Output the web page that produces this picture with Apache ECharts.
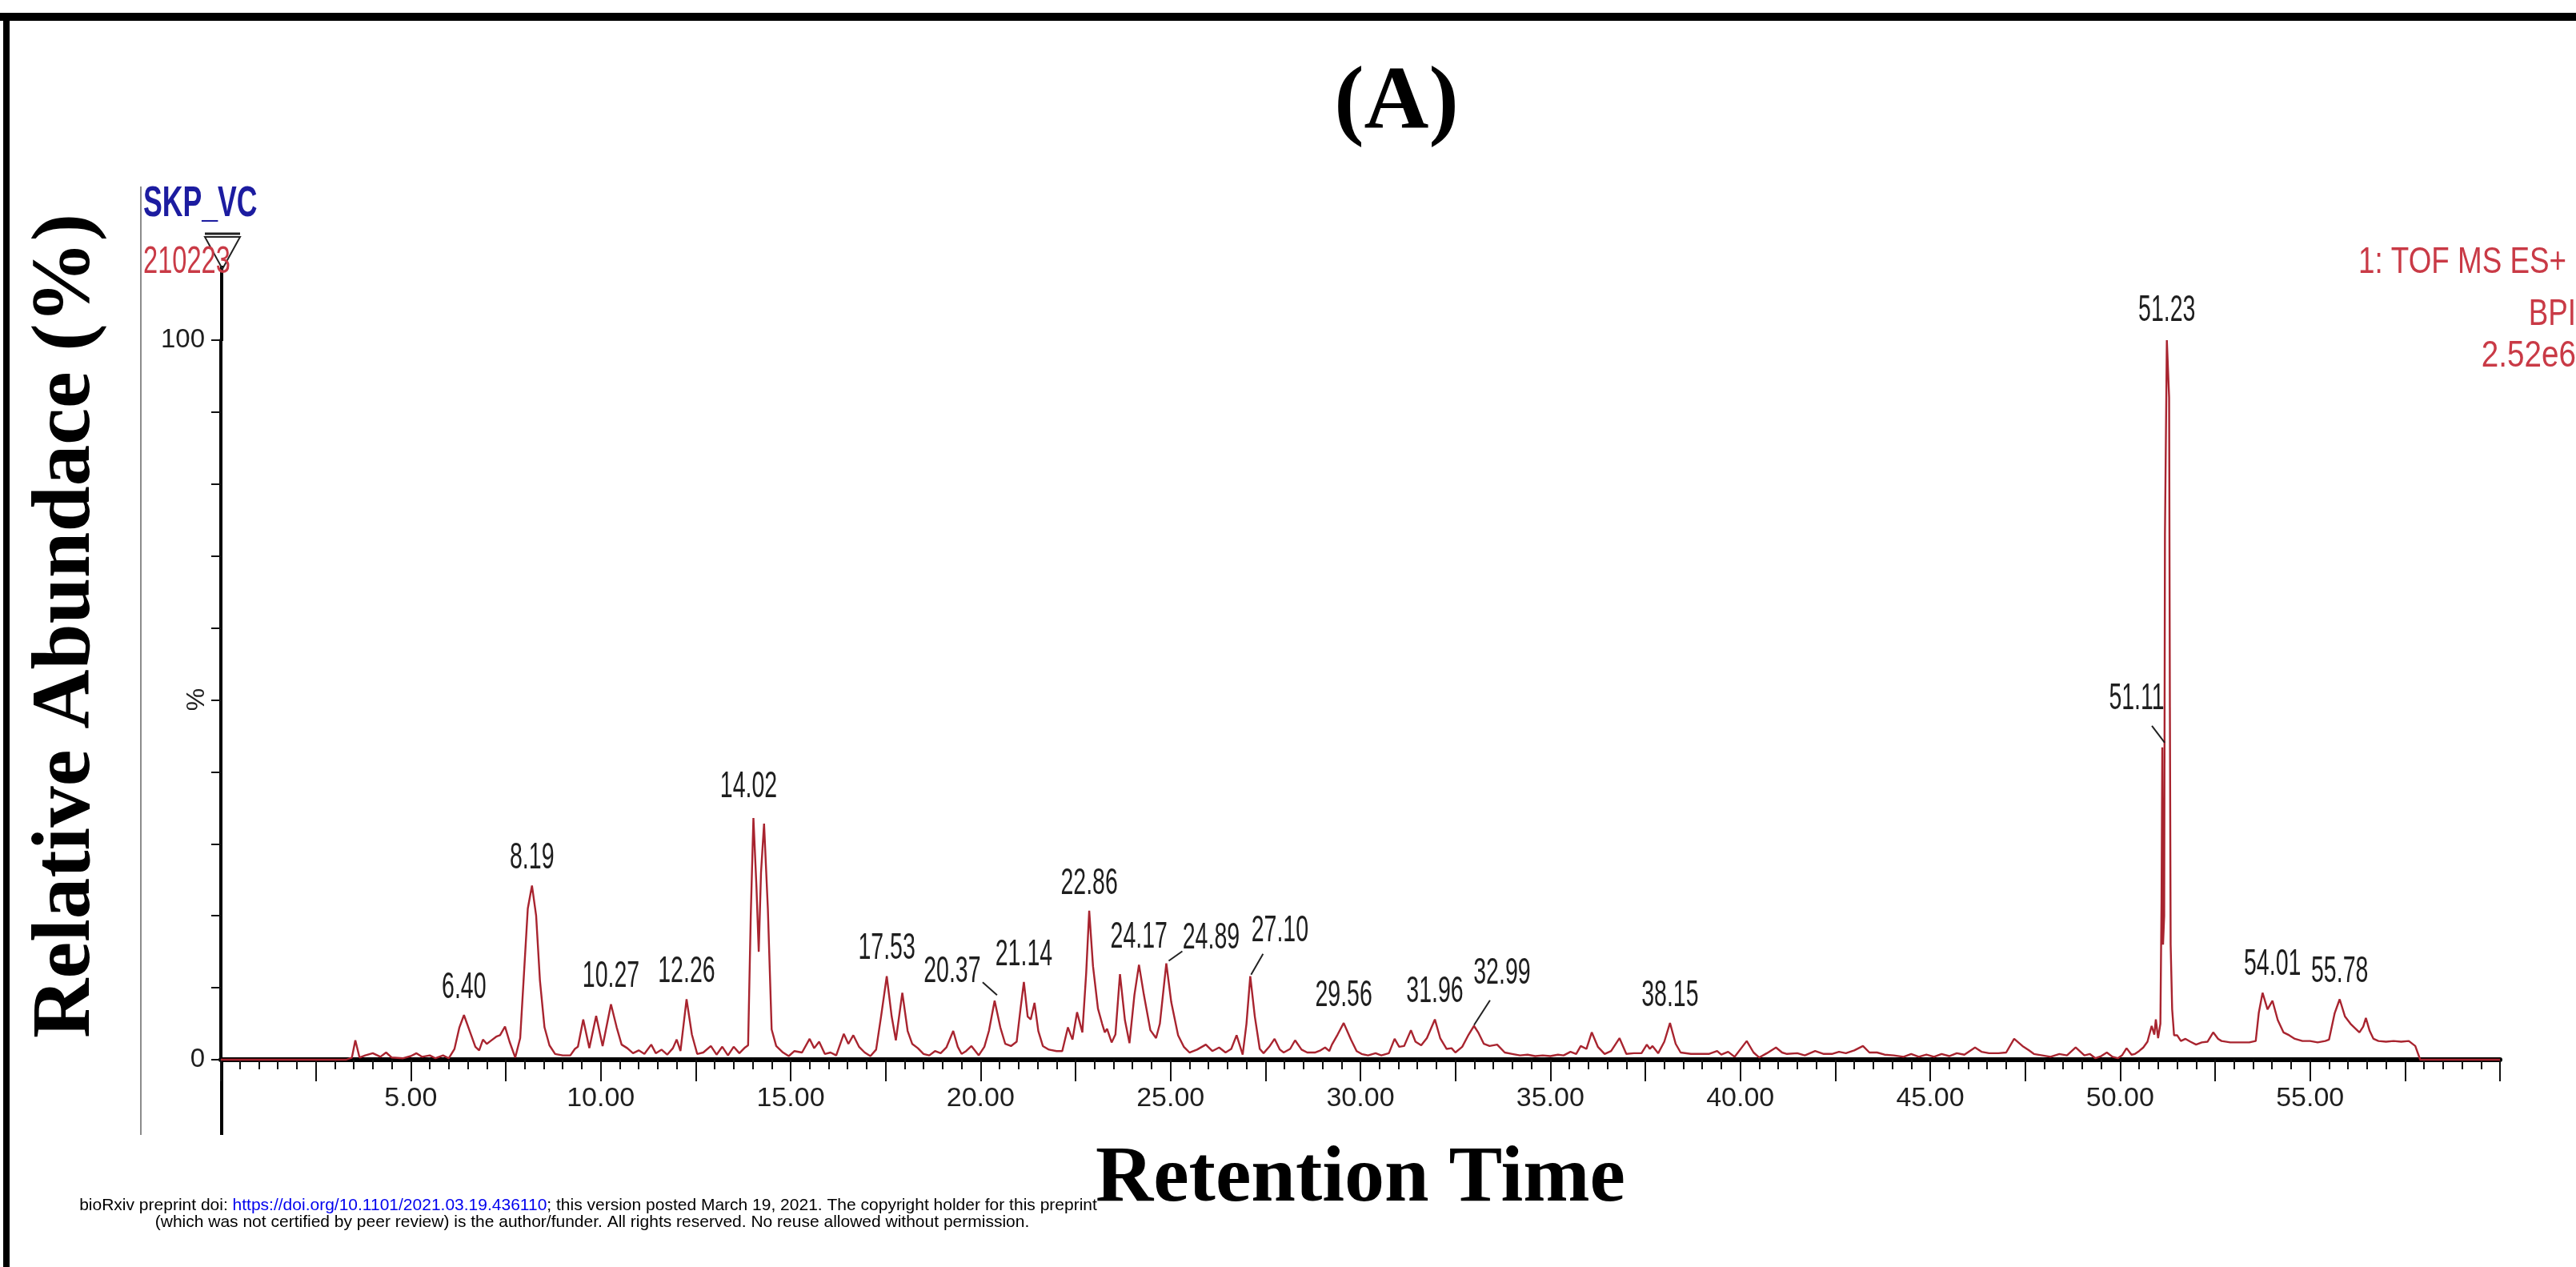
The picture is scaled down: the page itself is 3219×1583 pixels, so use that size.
<!DOCTYPE html>
<html>
<head>
<meta charset="utf-8">
<script src="https://cdn.jsdelivr.net/npm/echarts@6/dist/echarts.min.js"></script>
<style>
  html, body { margin: 0; padding: 0; background: #ffffff; }
  #chart { width: 3219px; height: 1583px; }
</style>
</head>
<body>
<div id="chart"></div>
<script>
// Base peak intensity chromatogram (TOF MS ES+, BPI), relative abundance in %
const retentionTime = [
  0.00, 3.30, 3.45, 3.54, 3.65, 3.80, 4.00, 4.20, 4.35, 4.50, 4.80, 5.00, 5.15, 5.30, 5.50, 5.65, 5.85, 6.00,
  6.15, 6.28, 6.40, 6.55, 6.70, 6.80, 6.90, 7.00, 7.10, 7.25, 7.35, 7.48, 7.60, 7.75, 7.88, 7.98, 8.08, 8.19,
  8.30, 8.40, 8.52, 8.65, 8.80, 9.00, 9.20, 9.32, 9.40, 9.54, 9.70, 9.88, 10.05, 10.27, 10.42, 10.55, 10.70,
  10.85, 11.00, 11.15, 11.33, 11.45, 11.60, 11.75, 11.90, 12.00, 12.10, 12.26, 12.40, 12.54, 12.70, 12.90,
  13.05, 13.20, 13.35, 13.50, 13.65, 13.80, 13.88, 13.95, 14.02, 14.10, 14.16, 14.22, 14.30, 14.40, 14.50,
  14.62, 14.80, 14.95, 15.10, 15.30, 15.50, 15.62, 15.75, 15.90, 16.05, 16.20, 16.40, 16.52, 16.65, 16.80,
  16.95, 17.10, 17.25, 17.38, 17.53, 17.66, 17.77, 17.94, 18.08, 18.20, 18.35, 18.50, 18.65, 18.80, 18.95,
  19.10, 19.28, 19.40, 19.50, 19.62, 19.76, 19.95, 20.10, 20.22, 20.37, 20.52, 20.65, 20.80, 20.95, 21.05,
  21.14, 21.24, 21.32, 21.42, 21.52, 21.64, 21.80, 22.00, 22.15, 22.30, 22.42, 22.54, 22.68, 22.78, 22.86,
  22.96, 23.09, 23.20, 23.27, 23.33, 23.45, 23.55, 23.67, 23.80, 23.92, 24.05, 24.17, 24.30, 24.47, 24.62,
  24.72, 24.89, 25.02, 25.20, 25.35, 25.50, 25.70, 25.93, 26.10, 26.28, 26.45, 26.60, 26.74, 26.90, 27.00,
  27.10, 27.22, 27.35, 27.45, 27.60, 27.74, 27.88, 27.98, 28.15, 28.28, 28.45, 28.60, 28.80, 28.95, 29.07,
  29.18, 29.25, 29.40, 29.56, 29.75, 29.90, 30.03, 30.20, 30.40, 30.55, 30.75, 30.90, 31.02, 31.15, 31.33,
  31.45, 31.60, 31.75, 31.96, 32.10, 32.27, 32.40, 32.50, 32.68, 32.85, 32.99, 33.10, 33.25, 33.40, 33.60,
  33.80, 34.00, 34.20, 34.40, 34.60, 34.80, 35.00, 35.20, 35.35, 35.53, 35.68, 35.80, 35.95, 36.09, 36.25,
  36.43, 36.60, 36.82, 37.00, 37.20, 37.40, 37.54, 37.62, 37.69, 37.84, 38.00, 38.15, 38.30, 38.43, 38.70,
  39.00, 39.17, 39.39, 39.50, 39.68, 39.85, 40.17, 40.35, 40.50, 40.70, 40.94, 41.10, 41.23, 41.50, 41.70,
  41.97, 42.20, 42.41, 42.60, 42.78, 43.00, 43.23, 43.40, 43.60, 43.80, 44.04, 44.30, 44.50, 44.70, 44.90,
  45.10, 45.30, 45.50, 45.70, 45.90, 46.18, 46.35, 46.55, 46.80, 47.00, 47.21, 47.43, 47.60, 47.73, 47.95,
  48.17, 48.40, 48.60, 48.83, 49.06, 49.20, 49.35, 49.50, 49.65, 49.80, 49.94, 50.05, 50.17, 50.30, 50.39,
  50.50, 50.61, 50.72, 50.83, 50.90, 50.94, 51.00, 51.06, 51.09, 51.11, 51.13, 51.16, 51.18, 51.23, 51.29,
  51.31, 51.33, 51.37, 51.42, 51.50, 51.60, 51.72, 51.85, 52.00, 52.15, 52.30, 52.45, 52.58, 52.67, 52.90,
  53.20, 53.40, 53.57, 53.65, 53.75, 53.88, 54.01, 54.15, 54.30, 54.45, 54.60, 54.80, 55.00, 55.20, 55.40,
  55.50, 55.65, 55.78, 55.92, 56.08, 56.20, 56.30, 56.40, 56.47, 56.57, 56.67, 56.80, 57.00, 57.20, 57.40,
  57.60, 57.77, 57.90, 60.00
];
const abundance = [
  0, 0, 0.3, 2.7, 0.3, 0.6, 0.9, 0.4, 1.0, 0.3, 0.2, 0.5, 0.9, 0.4, 0.6, 0.2, 0.6, 0.2,
  1.5, 4.5, 6.2, 4.0, 1.8, 1.3, 2.8, 2.2, 2.6, 3.2, 3.4, 4.6, 2.5, 0.3, 3.0, 12, 21, 24.2,
  20, 11, 4.5, 2.0, 0.8, 0.6, 0.6, 1.5, 1.8, 5.6, 1.6, 6.1, 1.9, 7.7, 4.5, 2.1, 1.6,
  0.9, 1.3, 0.8, 2.1, 0.9, 1.4, 0.7, 1.6, 2.8, 1.2, 8.4, 3.5, 0.8, 1.0, 1.9,
  0.7, 1.8, 0.6, 1.8, 0.9, 1.7, 2.0, 20, 33.6, 24, 15, 26, 32.8, 21, 4.2,
  1.9, 1.0, 0.5, 1.2, 1.0, 2.9, 1.6, 2.5, 0.8, 1.0, 0.6, 3.6, 2.2, 3.4, 1.8,
  1.0, 0.5, 1.4, 6, 11.6, 6, 2.7, 9.3, 4, 2.2, 1.6, 0.8, 0.6, 1.2, 0.9,
  1.7, 4.0, 1.8, 0.8, 1.2, 1.9, 0.6, 1.8, 4.0, 8.2, 4.5, 2.2, 1.9, 2.5, 7,
  10.8, 6.0, 5.6, 7.9, 4, 1.9, 1.4, 1.2, 1.2, 4.5, 2.8, 6.6, 3.8, 12, 20.7,
  13, 7.1, 5.0, 3.8, 4.3, 2.4, 3.5, 11.9, 5.5, 2.3, 9, 13.2, 9, 4.1, 3.0,
  5, 13.4, 8, 3.4, 1.8, 1.0, 1.4, 2.1, 1.2, 1.7, 1.0, 1.5, 3.4, 0.7, 5,
  11.6, 6, 1.5, 0.9, 1.8, 2.9, 1.4, 1.0, 1.5, 2.7, 1.4, 1.0, 1.0, 1.3, 1.7,
  1.2, 2.1, 3.5, 5.1, 2.8, 1.2, 0.8, 0.6, 0.9, 0.6, 0.9, 2.9, 1.8, 1.9, 4.1,
  2.5, 2.0, 3.0, 5.6, 3.0, 1.5, 1.6, 1.0, 1.8, 3.5, 4.7, 3.8, 2.2, 1.9, 2.1,
  1.0, 0.8, 0.6, 0.7, 0.5, 0.6, 0.5, 0.7, 0.6, 1.1, 0.8, 1.9, 1.5, 3.8, 1.8,
  0.8, 1.2, 3.0, 0.8, 0.9, 0.9, 2.1, 1.5, 1.9, 0.9, 2.5, 5.1, 2.2, 1.0, 0.8,
  0.8, 0.8, 1.2, 0.7, 1.1, 0.4, 2.6, 1.0, 0.3, 0.9, 1.7, 1.0, 0.8, 0.9, 0.6,
  1.2, 0.8, 0.8, 1.1, 0.9, 1.3, 1.9, 1.0, 1.0, 0.7, 0.6, 0.4, 0.8, 0.4, 0.7,
  0.4, 0.8, 0.5, 0.9, 0.7, 1.7, 1.1, 0.9, 0.9, 1.0, 2.9, 1.9, 1.3, 0.8, 0.6,
  0.4, 0.8, 0.6, 1.7, 0.6, 0.8, 0.2, 0.5, 1.0, 0.4, 0.2, 0.6, 1.6, 0.7, 0.8,
  1.2, 1.7, 2.5, 4.7, 3.5, 5.6, 3.0, 5, 22, 43.4, 16, 20, 73, 100, 92,
  49, 16, 7, 3.4, 3.4, 2.6, 2.9, 2.5, 2.1, 2.4, 2.5, 3.8, 2.9, 2.6, 2.4,
  2.4, 2.4, 2.6, 6.5, 9.3, 7.0, 8.2, 5.5, 3.8, 3.4, 2.9, 2.6, 2.6, 2.4, 2.6,
  2.8, 6.5, 8.4, 6.0, 4.9, 4.3, 3.8, 4.6, 5.8, 4.0, 2.9, 2.6, 2.5, 2.6, 2.5,
  2.6, 1.9, 0, 0
];

// Annotated peaks (retention time in minutes, relative abundance in %)
const peakTimes = [6.40, 8.19, 10.27, 12.26, 14.02, 17.53, 20.37, 21.14, 22.86, 24.17, 24.89,
  27.10, 29.56, 31.96, 32.99, 38.15, 51.11, 51.23, 54.01, 55.78];
const peakAbundance = [6.2, 24.2, 7.7, 8.4, 33.6, 11.6, 8.2, 10.8, 20.7, 13.2, 13.4,
  11.6, 5.1, 5.6, 4.7, 5.1, 43.4, 100, 8.2, 8.4];

// Tick text of the relative-abundance axis
const yTickText = { 0: '0', 100: '100' };

// Label placement relative to each peak apex (pixels); callouts get a leader line
const defaultLabelOffset = [0, -11];
const calloutLayout = {
  '14.02': { label: [-6, -16] },
  '54.01': { label: [0, -22] },
  '51.23': { label: [0, -14] },
  '20.37': { label: [-53, -13], line: [[3, -7], [-15, -23]] },
  '24.89': { label: [56, -8], line: [[3, -3], [20, -15]] },
  '27.10': { label: [37, -33], line: [[1, -2], [16, -28]] },
  '32.99': { label: [35, -42], line: [[0, -1], [20, -32]] },
  '51.11': { label: [-32, -38], line: [[3, -6], [-13, -27]] }
};

const SANS = '"Liberation Sans", Arial, Helvetica, sans-serif';
const SERIF = '"Liberation Serif", "Times New Roman", serif';
const TRACE = '#a8242f';
const HEADER_RED = '#c93a46';

const traceData = retentionTime.map((t, i) => [t, abundance[i]]);
const peakData = peakTimes.map((t, i) => [t, peakAbundance[i]]);

// condensed instrument-style text, anchored at (x, y)
function narrowText(x, y, text, font, fill, align, vAlign, squeeze) {
  return {
    type: 'text', x: x, y: y, scaleX: squeeze,
    style: {
      x: 0, y: 0, text: text, font: font + 'px ' + SANS, fill: fill,
      align: align, textAlign: align, verticalAlign: vAlign, textVerticalAlign: vAlign
    }
  };
}

const chart = echarts.init(document.getElementById('chart'), null, { renderer: 'canvas' });

function renderPeakLabel(params, api) {
  const t = api.value(0);
  const v = api.value(1);
  const p = api.coord([t, v]);
  const key = t.toFixed(2);
  const layout = calloutLayout[key] || {};
  const off = layout.label || defaultLabelOffset;
  const children = [narrowText(p[0] + off[0], p[1] + off[1], key, 46, '#1e1e1e', 'center', 'bottom', 0.62)];
  if (layout.line) {
    children.push({
      type: 'line',
      shape: {
        x1: p[0] + layout.line[0][0], y1: p[1] + layout.line[0][1],
        x2: p[0] + layout.line[1][0], y2: p[1] + layout.line[1][1]
      },
      style: { stroke: '#222', lineWidth: 2 }
    });
  }
  return { type: 'group', children };
}

const option = {
  backgroundColor: '#ffffff',
  animation: false,
  grid: { left: 276, right: 95, top: 425, bottom: 259, containLabel: false },
  xAxis: [{
    type: 'value',
    min: 0, max: 60, interval: 5,
    name: 'Retention Time',
    nameLocation: 'middle',
    nameGap: 100,
    nameTextStyle: { fontFamily: SERIF, fontWeight: 'bold', fontSize: 100, color: '#000' },
    axisLine: { show: true, onZero: false, lineStyle: { color: '#000', width: 6 } },
    axisTick: { show: true, length: 27, lineStyle: { color: '#111', width: 2 } },
    minorTick: { show: true, splitNumber: 10, length: 12, lineStyle: { color: '#111', width: 2 } },
    axisLabel: {
      margin: 32,
      fontFamily: SANS, fontSize: 34, color: '#1e1e1e',
      formatter: v => (v === 0 || v === 60) ? '' : v.toFixed(2)
    },
    splitLine: { show: false }
  }, {
    // extra ticks at every 2.5 minutes
    type: 'value',
    min: 0, max: 60, interval: 2.5,
    position: 'bottom',
    axisLine: { show: false },
    axisTick: { show: true, length: 27, lineStyle: { color: '#111', width: 2 } },
    axisLabel: { show: false },
    splitLine: { show: false }
  }],
  yAxis: {
    type: 'value',
    min: 0, max: 100, interval: 10,
    axisLine: { show: true, onZero: false, lineStyle: { color: '#000', width: 4 } },
    axisTick: { show: true, length: 12, lineStyle: { color: '#111', width: 2 } },
    axisLabel: {
      margin: 20,
      fontFamily: SANS, fontSize: 33, color: '#1e1e1e',
      formatter: v => (yTickText[v] !== undefined ? yTickText[v] : '')
    },
    splitLine: { show: false }
  },
  graphic: [
    // page frame
    { type: 'rect', shape: { x: 0, y: 16, width: 3219, height: 10 }, style: { fill: '#000' } },
    { type: 'rect', shape: { x: 4, y: 16, width: 8, height: 1567 }, style: { fill: '#000' } },
    // panel title
    { type: 'text', x: 1745, y: 131, style: {
      text: '(A)', font: 'bold 112px ' + SERIF, fill: '#000',
      align: 'center', textAlign: 'center', verticalAlign: 'middle', textVerticalAlign: 'middle' } },
    // y-axis title
    { type: 'text', x: 84, y: 782, rotation: Math.PI / 2, style: {
      text: 'Relative Abundace (%)', font: 'bold 103px ' + SERIF, fill: '#000',
      align: 'center', textAlign: 'center', verticalAlign: 'middle', textVerticalAlign: 'middle' } },
    // instrument window frame line
    { type: 'line', shape: { x1: 176, y1: 233, x2: 176, y2: 1418 }, style: { stroke: '#8c8c8c', lineWidth: 2 } },
    // axis extensions above 100 % and below the time axis
    { type: 'line', shape: { x1: 277, y1: 332, x2: 277, y2: 426 }, style: { stroke: '#000', lineWidth: 4 } },
    { type: 'line', shape: { x1: 277, y1: 1324, x2: 277, y2: 1418 }, style: { stroke: '#000', lineWidth: 4 } },
    // trace marker
    { type: 'polygon', shape: { points: [[256, 296], [300, 296], [278, 336]] },
      style: { fill: 'none', stroke: '#222', lineWidth: 2 } },
    { type: 'line', shape: { x1: 256, y1: 292, x2: 300, y2: 292 }, style: { stroke: '#222', lineWidth: 3 } },
    // sample header
    narrowText(179, 228, 'SKP_VC', 'bold 54', '#1c1ca0', 'left', 'top', 0.66),
    narrowText(179, 304, '210223', 48, HEADER_RED, 'left', 'top', 0.68),
    // function header
    narrowText(3207, 305, '1: TOF MS ES+', 46, HEADER_RED, 'right', 'top', 0.8),
    narrowText(3219, 370, 'BPI', 46, HEADER_RED, 'right', 'top', 0.8),
    narrowText(3219, 422, '2.52e6', 46, HEADER_RED, 'right', 'top', 0.84),
    // '%' marker on the abundance axis
    { type: 'text', x: 246, y: 874, rotation: Math.PI / 2, style: {
      text: '%', font: '32px ' + SANS, fill: '#1e1e1e',
      align: 'center', textAlign: 'center', verticalAlign: 'middle', textVerticalAlign: 'middle' } },
    // preprint notice
    { type: 'text', x: 735, y: 1506, style: {
      text: 'bioRxiv preprint doi: {link|https://doi.org/10.1101/2021.03.19.436110}; this version posted March 19, 2021. The copyright holder for this preprint',
      font: '21px ' + SANS, fill: '#000',
      rich: { link: { fill: '#0000ee', color: '#0000ee', font: '21px ' + SANS } },
      align: 'center', textAlign: 'center', verticalAlign: 'middle', textVerticalAlign: 'middle' } },
    { type: 'text', x: 740, y: 1527, style: {
      text: '(which was not certified by peer review) is the author/funder. All rights reserved. No reuse allowed without permission.',
      font: '21px ' + SANS, fill: '#000',
      align: 'center', textAlign: 'center', verticalAlign: 'middle', textVerticalAlign: 'middle' } }
  ],
  series: [{
    type: 'line',
    name: 'BPI',
    xAxisIndex: 0,
    data: traceData,
    showSymbol: false,
    symbol: 'none',
    smooth: false,
    sampling: null,
    clip: false,
    lineStyle: { color: TRACE, width: 2.4 },
    z: 3
  }, {
    type: 'custom',
    name: 'peak labels',
    xAxisIndex: 0,
    data: peakData,
    renderItem: renderPeakLabel,
    clip: false,
    z: 4
  }]
};

chart.setOption(option);
</script>
</body>
</html>
